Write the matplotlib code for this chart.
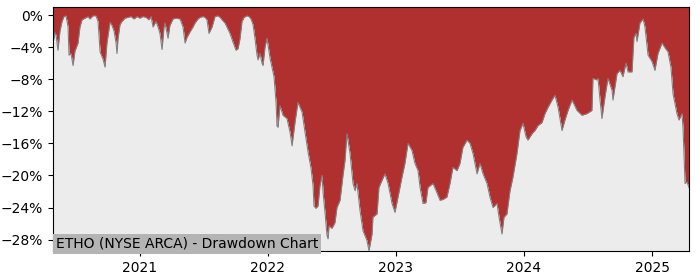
import matplotlib
matplotlib.use('Agg')
import matplotlib.pyplot as plt
import matplotlib.dates as mdates
from matplotlib.ticker import PercentFormatter, MultipleLocator
import numpy as np
import pandas as pd

# Drawdown de ETHO (annee decimale, drawdown en %)
annees = [
    2020.320, 2020.336, 2020.344, 2020.359, 2020.375, 2020.391, 2020.406, 2020.422,
    2020.438, 2020.445, 2020.461, 2020.477, 2020.492, 2020.516, 2020.531, 2020.547,
    2020.570, 2020.594, 2020.609, 2020.633, 2020.656, 2020.672, 2020.688, 2020.711,
    2020.727, 2020.742, 2020.766, 2020.781, 2020.797, 2020.813, 2020.820, 2020.828,
    2020.844, 2020.859, 2020.883, 2020.906, 2020.930, 2020.953, 2020.977, 2021.000,
    2021.023, 2021.047, 2021.070, 2021.086, 2021.102, 2021.125, 2021.141, 2021.156,
    2021.172, 2021.188, 2021.195, 2021.219, 2021.234, 2021.258, 2021.281, 2021.313,
    2021.336, 2021.352, 2021.367, 2021.391, 2021.414, 2021.430, 2021.453, 2021.469,
    2021.492, 2021.508, 2021.523, 2021.539, 2021.563, 2021.586, 2021.609, 2021.625,
    2021.641, 2021.664, 2021.688, 2021.703, 2021.727, 2021.750, 2021.766, 2021.781,
    2021.797, 2021.813, 2021.836, 2021.852, 2021.867, 2021.883, 2021.898, 2021.914,
    2021.922, 2021.938, 2021.953, 2021.961, 2021.977, 2021.992, 2022.016, 2022.031,
    2022.047, 2022.063, 2022.070, 2022.078, 2022.094, 2022.117, 2022.148, 2022.172,
    2022.188, 2022.211, 2022.234, 2022.266, 2022.289, 2022.313, 2022.336, 2022.352,
    2022.359, 2022.375, 2022.391, 2022.406, 2022.422, 2022.430, 2022.445, 2022.461,
    2022.469, 2022.477, 2022.500, 2022.523, 2022.539, 2022.563, 2022.586, 2022.602,
    2022.617, 2022.641, 2022.664, 2022.680, 2022.695, 2022.719, 2022.742, 2022.773,
    2022.789, 2022.813, 2022.820, 2022.852, 2022.867, 2022.891, 2022.914, 2022.938,
    2022.969, 2022.992, 2023.016, 2023.047, 2023.070, 2023.094, 2023.125, 2023.148,
    2023.172, 2023.188, 2023.211, 2023.234, 2023.250, 2023.289, 2023.313, 2023.344,
    2023.367, 2023.398, 2023.422, 2023.445, 2023.477, 2023.500, 2023.523, 2023.555,
    2023.578, 2023.602, 2023.633, 2023.656, 2023.680, 2023.711, 2023.734, 2023.758,
    2023.789, 2023.805, 2023.828, 2023.844, 2023.867, 2023.891, 2023.914, 2023.945,
    2023.969, 2023.992, 2024.016, 2024.031, 2024.063, 2024.086, 2024.109, 2024.141,
    2024.164, 2024.188, 2024.219, 2024.242, 2024.266, 2024.297, 2024.320, 2024.344,
    2024.375, 2024.414, 2024.453, 2024.492, 2024.531, 2024.539, 2024.570, 2024.578,
    2024.594, 2024.609, 2024.633, 2024.656, 2024.688, 2024.695, 2024.727, 2024.750,
    2024.773, 2024.797, 2024.813, 2024.844, 2024.859, 2024.875, 2024.883, 2024.906,
    2024.930, 2024.945, 2024.969, 2025.000, 2025.023, 2025.047, 2025.078, 2025.102,
    2025.125, 2025.148, 2025.164, 2025.195, 2025.211, 2025.234, 2025.242, 2025.258,
    2025.273, 2025.289,
]
drawdown = [
    -3.5, -2.2, -2.5, -4.4, -2.0, -0.8, -0.2, -0.1,
    -1.5, -5.0, -4.8, -6.3, -4.5, -3.5, -1.5, -0.6,
    -0.4, -0.2, -0.5, -0.1, -0.1, -0.8, -4.6, -5.5,
    -6.5, -3.5, -0.9, -1.3, -2.0, -3.5, -4.8, -3.0,
    -1.2, -0.8, -0.4, -0.3, -0.2, -0.5, -0.2, -0.4,
    -0.2, -0.3, -0.6, -0.2, -1.5, -0.8, -1.5, -2.3,
    -4.3, -1.5, -1.0, -2.9, -1.3, -0.5, -0.4, -0.5,
    -1.5, -3.5, -2.8, -2.1, -1.5, -1.0, -0.5, -0.3,
    -0.2, -0.3, -0.6, -2.3, -1.5, -0.2, -0.1, -0.3,
    -0.6, -1.0, -1.8, -2.3, -3.4, -4.4, -4.2, -3.0,
    -0.8, -0.3, -0.1, -0.2, -0.5, -1.2, -2.9, -5.0,
    -5.6, -4.8, -6.0, -6.3, -4.0, -2.9, -5.4, -6.5,
    -7.7, -11.0, -13.8, -14.0, -11.3, -12.5, -12.9, -14.6,
    -16.3, -13.4, -10.9, -12.1, -14.6, -17.1, -19.1, -21.3,
    -23.8, -24.1, -23.8, -21.3, -20.0, -22.1, -24.6, -27.5,
    -27.9, -26.3, -26.6, -25.9, -24.0, -23.1, -20.0, -18.1,
    -14.8, -17.3, -21.0, -21.9, -21.0, -24.4, -26.9, -28.1,
    -29.4, -27.3, -25.2, -24.8, -21.5, -20.6, -19.8, -21.0,
    -23.5, -24.6, -22.7, -20.2, -18.5, -16.0, -16.9, -18.5,
    -19.4, -21.5, -23.5, -23.4, -21.5, -21.0, -21.9, -23.1,
    -23.0, -22.7, -21.0, -19.0, -19.4, -18.5, -16.5, -15.6,
    -16.0, -17.3, -19.8, -18.5, -19.8, -21.0, -22.7, -24.0,
    -23.5, -25.2, -27.3, -25.2, -24.8, -21.9, -20.2, -17.3,
    -14.4, -13.5, -15.2, -15.6, -14.8, -14.4, -13.8, -13.4,
    -12.3, -11.5, -10.6, -10.0, -11.5, -14.4, -13.1, -11.9,
    -10.6, -11.9, -12.5, -12.3, -11.9, -7.9, -8.1, -7.9,
    -10.6, -12.9, -10.2, -7.9, -9.4, -10.6, -7.3, -6.9,
    -7.7, -6.0, -7.1, -7.1, -2.8, -2.3, -3.3, -1.0,
    -0.5, -1.5, -5.0, -5.8, -6.9, -4.8, -3.5, -4.1,
    -4.6, -6.5, -9.8, -12.3, -13.1, -12.3, -14.0, -21.0,
    -20.8, -21.5,
]
titre = "ETHO (NYSE ARCA) - Drawdown Chart"

# --------------------------------------------------------------------------- #

annees = np.array(annees)
dd = np.array(drawdown)
dates = pd.Timestamp('2021-01-01') + pd.to_timedelta((annees - 2021) * 365.25, unit='D')

fig = plt.figure(figsize=(7, 2.8), dpi=100)
ax = fig.add_axes([0.0757, 0.104, 0.9086, 0.871])

haut = 1.0
bas = dd.min()

ax.fill_between(dates, dd, haut, color='#b03030', lw=0)
ax.fill_between(dates, bas, dd, color='#ececec', lw=0)
ax.plot(dates, dd, color='grey', lw=0.8)

ax.set_xlim(dates[0], dates[-1])
ax.set_ylim(bas, haut)

ax.yaxis.set_major_locator(MultipleLocator(4))
ax.yaxis.set_major_formatter(PercentFormatter(decimals=0))
ax.xaxis.set_major_locator(mdates.YearLocator())
ax.xaxis.set_major_formatter(mdates.DateFormatter('%Y'))

ax.text(0.004, 0.0, titre, transform=ax.transAxes, fontsize=10,
        ha='left', va='bottom',
        bbox=dict(facecolor='#b4b4b4', edgecolor='none', pad=2))

fig.savefig('out.png', dpi=100)
